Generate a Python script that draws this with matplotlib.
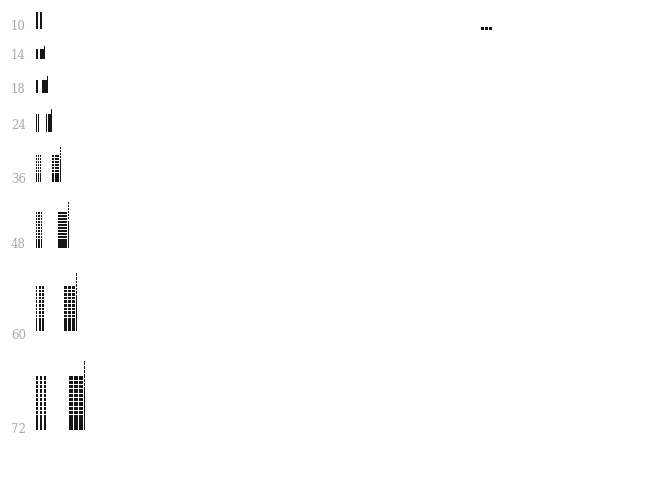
import matplotlib
matplotlib.use("Agg")
import matplotlib.pyplot as plt

# ---- data ----
font_sizes = [10, 14, 18, 24, 36, 48, 60, 72]
size_labels = ["10", "14", "18", "24", "36", "48", "60", "72"]

# ---- layout / style ----
INK = "#151515"
LABEL_COLOR = "#aaaaaa"
label_nudge = [1, 0, 0, -3, 1, 0, 8, 3]   # px, vertical label offsets

fig = plt.figure(figsize=(6.5, 4.83), dpi=100)
ax = fig.add_axes([0, 0, 1, 1])
ax.set_xlim(0, 650)
ax.set_ylim(483, 0)
ax.axis("off")


def column(x, w, top, bottom, period=None, solid_frac=0.25, gap=1.0):
    """Vertical stroke, optionally broken by thin horizontal gaps."""
    if period is None:
        ax.bar(x, bottom - top, width=w, bottom=top, align="edge",
               color=INK, linewidth=0)
        return
    solid_start = bottom - (bottom - top) * solid_frac
    ax.bar(x, bottom - solid_start, width=w, bottom=solid_start, align="edge",
           color=INK, linewidth=0)
    y = top
    while y < solid_start - 0.5:
        seg_end = min(y + period - gap, solid_start)
        ax.bar(x, seg_end - y, width=w, bottom=y, align="edge",
               color=INK, linewidth=0)
        y += period


def specimen(s, baseline):
    x0 = 35.5
    h = 0.75 * s + max(0.0, 14 - s) * 2.4
    top = baseline - h
    period = max(3.0, 0.06 * s) if s >= 36 else None

    # first glyph
    if s < 24:
        column(x0, max(2.0, 0.16 * s), top, baseline)
    else:
        n = 2 if s < 36 else 3
        total = 0.17 * s
        pitch = total / n
        for i in range(n):
            column(x0 + i * pitch, pitch * 0.55, top, baseline, period)

    # second glyph
    if s >= 36:
        x1 = x0 + 0.47 * s
    elif s >= 24:
        x1 = x0 + 0.42 * s
    else:
        x1 = x0 + (4.5 if s < 18 else 6.5)
    if s < 14:
        column(x1, 2.0, top, baseline)
        return
    if s < 24:
        w = 0.25 * s
        column(x1, w, top, baseline)
        thin_x = x1 + w
    elif s < 36:
        column(x1, 1.2, top, baseline)
        column(x1 + 2.8, 2.4, top, baseline)
        thin_x = x1 + 5.2
    else:
        n = 3
        total = 0.2 * s
        pitch = total / n
        for i in range(n):
            column(x1 + i * pitch, pitch * 0.78, top, baseline, period)
        thin_x = x1 + total
    thin_w = max(1.2, s / 55)
    thin_top = baseline - 0.96 * s
    column(thin_x, thin_w, thin_top, baseline,
           period if period else None, solid_frac=0.6)


baseline = 29.0
for i, (s, lab) in enumerate(zip(font_sizes, size_labels)):
    if i > 0:
        baseline += 1.38 * s + max(0.0, 18 - 0.5 * s)
    specimen(s, baseline)
    ax.text(11, baseline + label_nudge[i], lab, fontsize=8.5,
            color=LABEL_COLOR, family="DejaVu Serif",
            ha="left", va="baseline")

# small ellipsis-like mark at the top right
dot_x = [480.5, 484.5, 488.5]
ax.bar(dot_x, [3.2] * 3, width=3.0, bottom=26.5, align="edge",
       color=INK, linewidth=0)

fig.savefig("out.png", dpi=100)
